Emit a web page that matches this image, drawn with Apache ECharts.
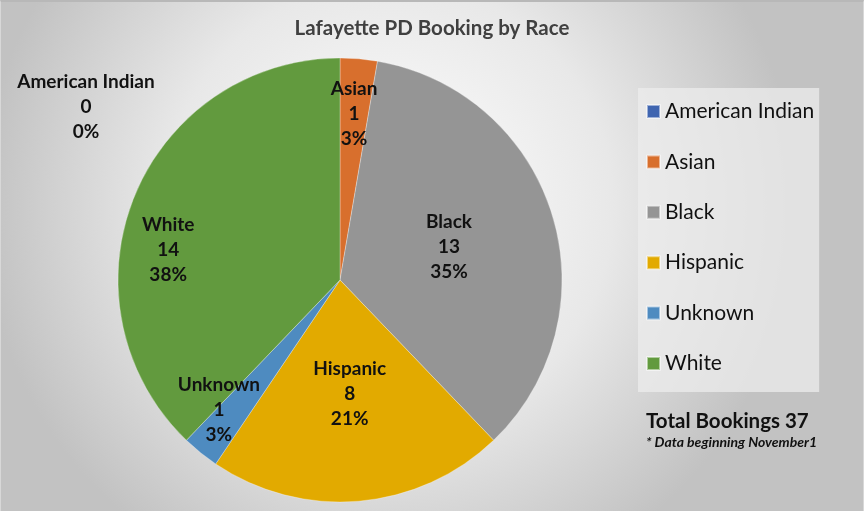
<!DOCTYPE html>
<html>
<head>
<meta charset="utf-8">
<title>Lafayette PD Booking by Race</title>
<script src="https://cdn.jsdelivr.net/npm/echarts@6/dist/echarts.min.js"></script>
<style>
  html,body{margin:0;padding:0;background:#fff;}
  #main{width:862px;height:509px;border-top:2px solid #b8b8b8;border-left:1px solid #d8d8d8;border-right:1px solid #d8d8d8;}
</style>
</head>
<body>
<div id="main"></div>
<script>
var races=["American Indian","Asian","Black","Hispanic","Unknown","White"];
var bookings=[0,1,13,8,1,14];
var colors=["#3f65b0","#d86f2d","#959595","#e2aa00","#4e8bc0","#629a3e"];
// inside labels: push out from the default half radius, and turn a little (degrees)
var labelPush=[1,1.46,1,1,1.56,1.53];
var labelTurn=[0,0,0,0,4,-12];

var total=0;
for(var i=0;i<bookings.length;i++) total+=bookings[i];

var center=[339,278];
var myChart=echarts.init(document.getElementById("main"));
var pieData=[];
for(var i=0;i<races.length;i++){
  pieData.push({name:races[i],value:bookings[i],itemStyle:{color:colors[i]}});
}
var option={
  backgroundColor:{
    type:"radial",x:0.45,y:0.4,r:0.8,
    colorStops:[{offset:0,color:"#ffffff"},{offset:0.55,color:"#e8e8e8"},{offset:1,color:"#c2c2c2"}]
  },
  textStyle:{fontFamily:"Lato"},
  title:[{
    text:"Lafayette PD Booking by Race",
    left:"center",top:11,
    textStyle:{fontFamily:"Lato",fontSize:20.5,fontWeight:"bold",color:"#404040"}
  },{
    text:"Total Bookings "+total,
    subtext:"* Data beginning November1",
    left:640,top:404,itemGap:3,
    textStyle:{fontFamily:"Lato",fontSize:20.5,fontWeight:"bold",color:"#111"},
    subtextStyle:{fontFamily:"Lato",fontSize:14,fontWeight:"bold",fontStyle:"italic",color:"#111"}
  }],
  legend:{
    orient:"vertical",
    left:637,top:86,
    padding:[13,5,18,8],
    backgroundColor:"rgba(236,236,236,0.75)",
    icon:"rect",
    itemWidth:13,itemHeight:13,
    itemGap:29.4,
    textStyle:{fontFamily:"Lato",fontSize:21,color:"#111",lineHeight:20,padding:[0,0,0,0]},
    data:races
  },
  series:[{
    type:"pie",
    center:center,
    radius:222,
    startAngle:90,
    clockwise:true,
    percentPrecision:0,
    avoidLabelOverlap:false,
    silent:true,
    itemStyle:{borderColor:"rgba(255,255,255,0.5)",borderWidth:0.6},
    label:{
      show:true,
      position:"inside",
      formatter:"{b}\n{c}\n{d}%",
      fontFamily:"Lato",
      fontSize:19,
      fontWeight:"bold",
      color:"#111",
      lineHeight:25
    },
    labelLine:{show:false},
    labelLayout:function(p){
      if(p.dataIndex===0) return {x:85,y:105};
      var f=labelPush[p.dataIndex], t=labelTurn[p.dataIndex]*Math.PI/180;
      if(f===1 && t===0) return {};
      var dx=p.labelRect.x+p.labelRect.width/2-center[0], dy=p.labelRect.y+p.labelRect.height/2-center[1];
      var rx=dx*Math.cos(t)-dy*Math.sin(t), ry=dx*Math.sin(t)+dy*Math.cos(t);
      return {x:center[0]+rx*f, y:center[1]+ry*f};
    },
    data:pieData
  }]
};
myChart.setOption(option);
</script>
</body>
</html>
